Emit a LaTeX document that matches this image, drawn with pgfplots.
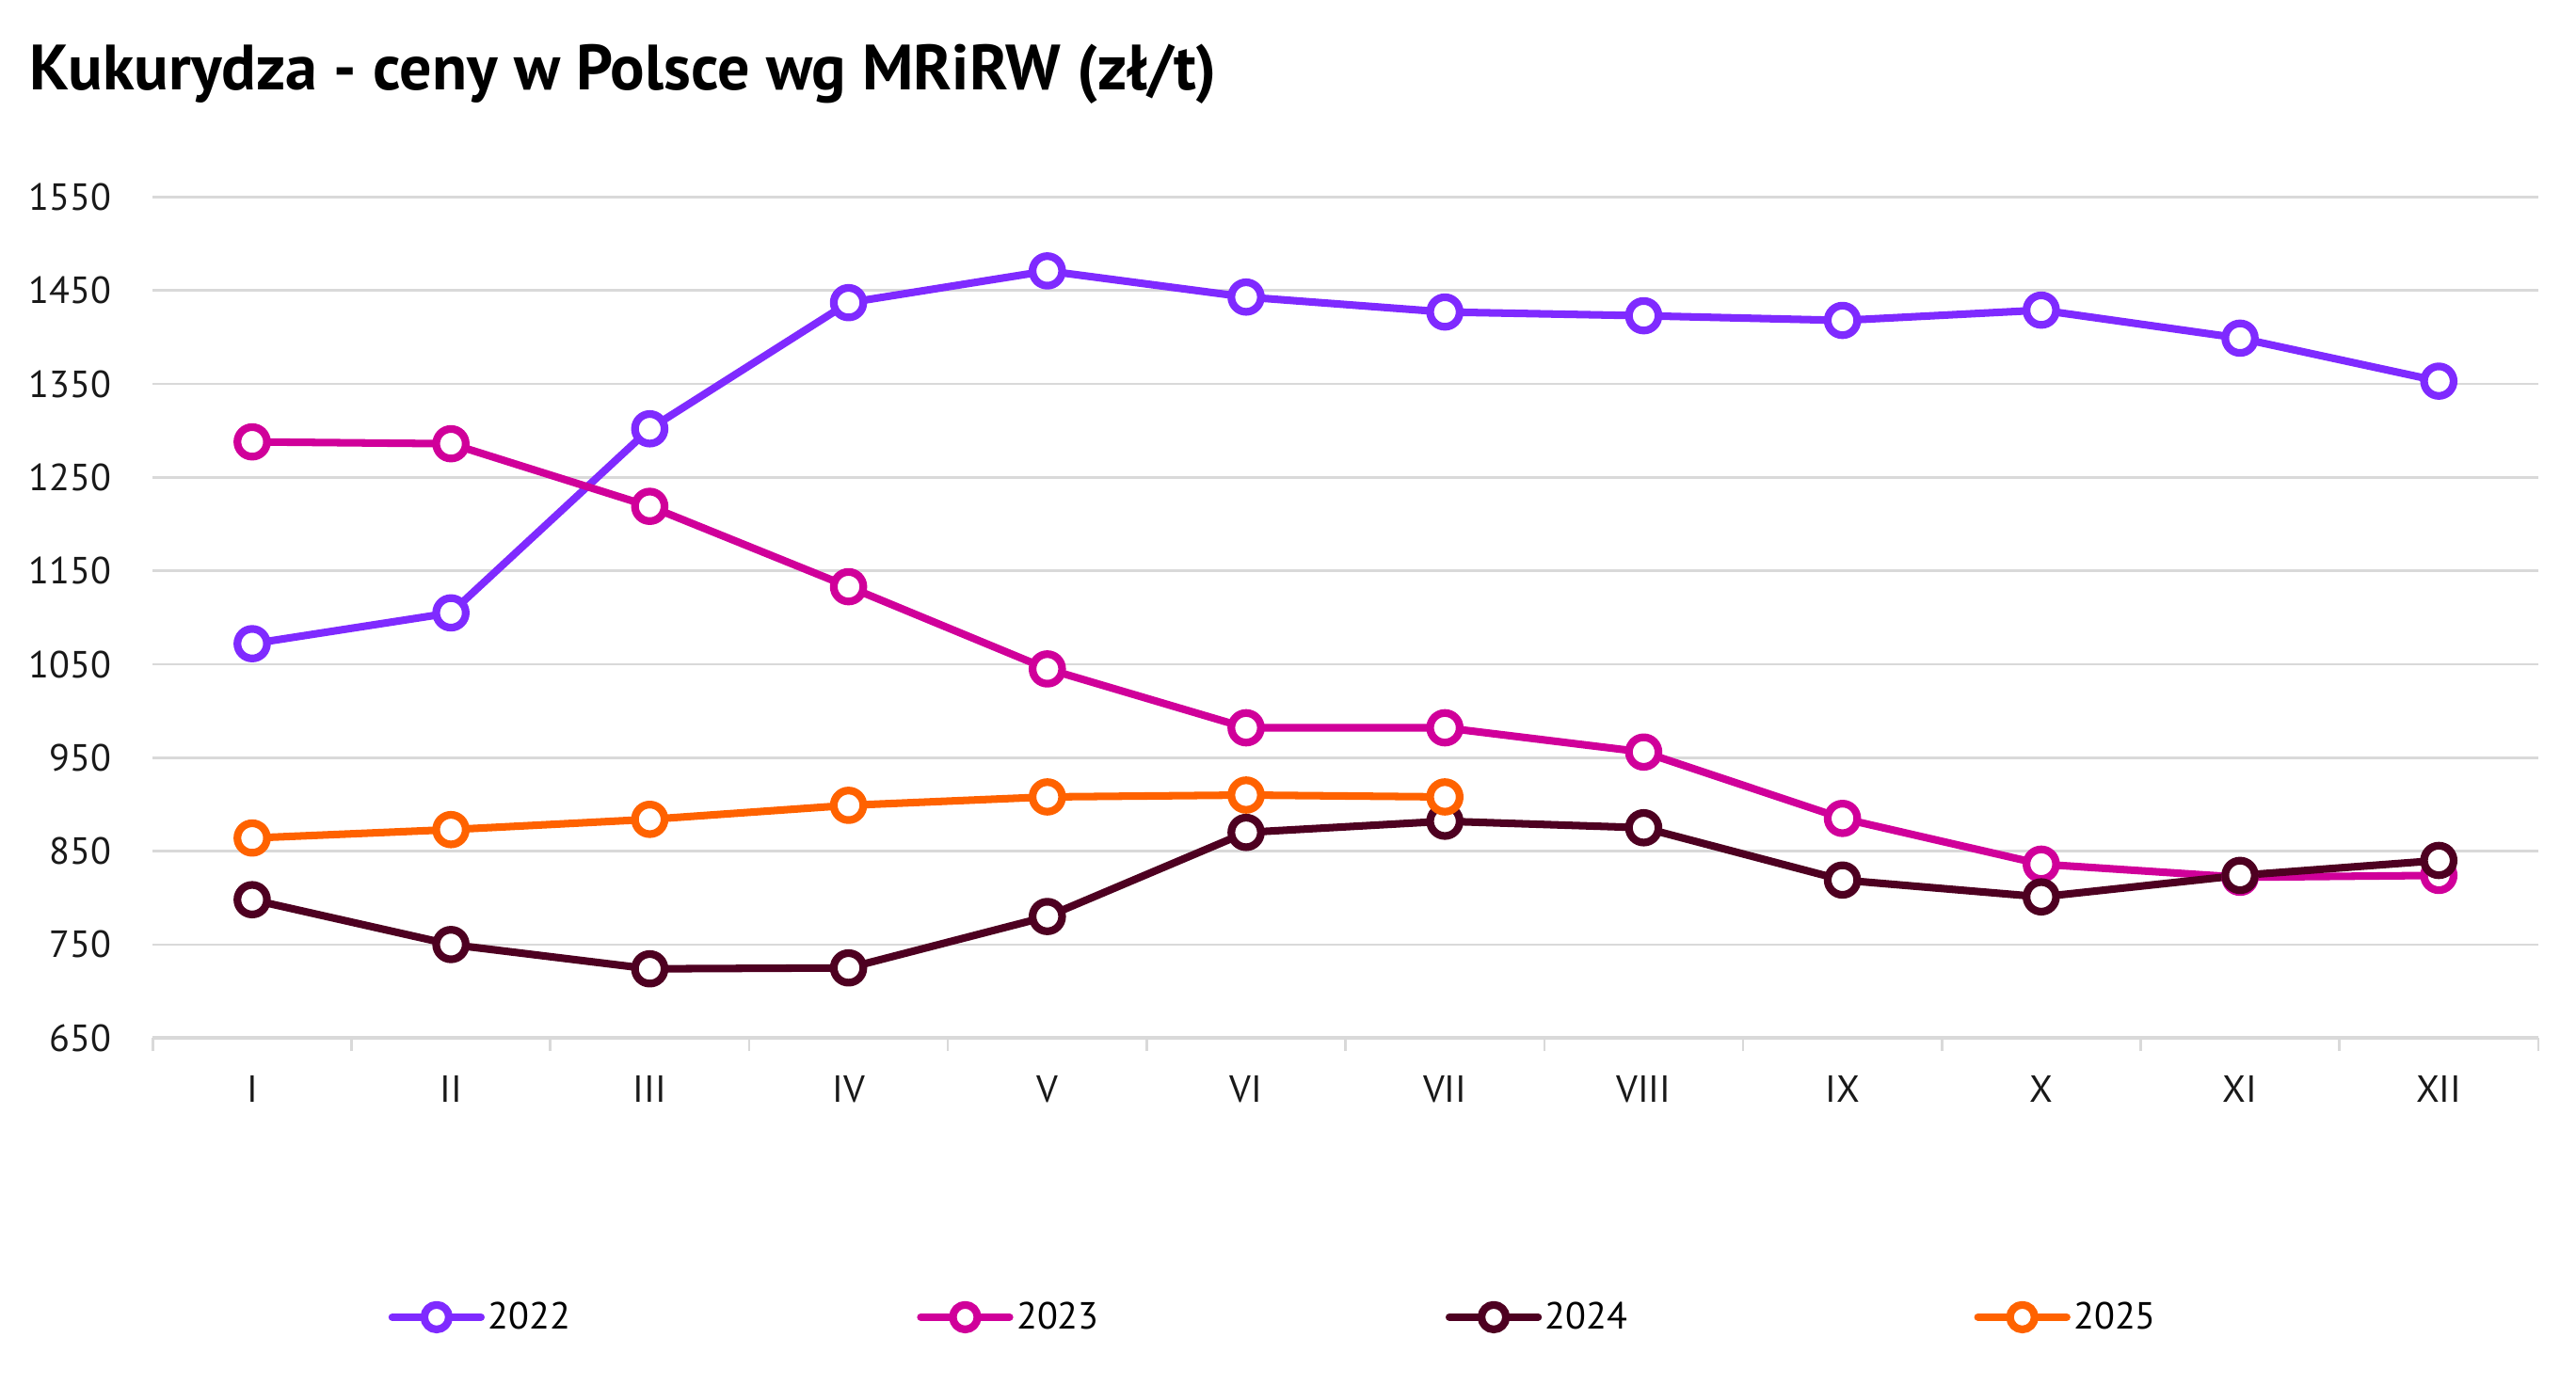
\documentclass[border=0pt]{standalone}
\usepackage{fontspec}
\setmainfont{PT Sans}
\usepackage{pgfplots}
\pgfplotsset{compat=1.18}
\definecolor{c22}{HTML}{7F2AFF}
\definecolor{c23}{HTML}{D0009A}
\definecolor{c24}{HTML}{4E0021}
\definecolor{c25}{HTML}{FF6200}
\definecolor{gridc}{HTML}{D9D9D9}
\pgfplotsset{ser/.style={color=#1, line width=4.6pt, line join=round, mark=*, mark size=9pt,
  mark options={fill=white, draw=#1, line width=4.7pt, solid}}}
\begin{document}
\begin{tikzpicture}
\useasboundingbox (0,0) rectangle (1568pt,843pt);
\node[anchor=base west, inner sep=0pt, font=\fontsize{39}{45}\selectfont\bfseries] at (18pt,788pt) {Kukurydza - ceny w Polsce wg MRiRW (zł/t)};
\begin{axis}[
 at={(93pt,211pt)}, anchor=south west,
 scale only axis, width=1452pt, height=512pt,
 xmin=-0.5, xmax=11.5, ymin=650, ymax=1550,
 xtick={0,...,11}, xticklabels={I,II,III,IV,V,VI,VII,VIII,IX,X,XI,XII},
 minor xtick={-0.5,0.5,...,11.5},
 ytick={650,750,...,1550},
 axis x line*=bottom, axis y line*=left,
 x axis line style={draw=gridc, line width=2pt, -},
 y axis line style={draw=none, -},
 major tick length=0pt, minor tick length=8pt, tick align=outside,
 xtick style={draw=none}, ytick style={draw=none},
 minor x tick style={draw=gridc, line width=1.5pt},
 ymajorgrids, grid style={draw=gridc, line width=1.5pt},
 tick label style={font=\fontsize{23}{27}\selectfont, inner sep=0pt, text=black!90},
 xticklabel style={anchor=north, yshift=-23pt},
 yticklabel style={anchor=east, xshift=-25pt},
 /pgf/number format/assume math mode=true,
 /pgf/number format/1000 sep={},
 legend image code/.code={\draw[#1, mark=none, line cap=round] (0pt,0pt) -- (54pt,0pt);
   \draw[#1, mark size=7.5pt] plot[only marks] coordinates {(27pt,0pt)};},
 legend style={at={(0.470,-0.332)}, anchor=center, legend columns=4, draw=none, fill=none,
   font=\fontsize{23}{27}\selectfont, nodes={inner sep=2pt},
   /tikz/every even column/.append style={column sep=209pt}},
]
\addplot[ser=c22] coordinates {
(0,1072) (1,1105) (2,1302) (3,1437) (4,1471) (5,1443) (6,1427) (7,1423) (8,1418) (9,1429) (10,1399) (11,1353)};
\addlegendentry{2022}
\addplot[ser=c23] coordinates {
(0,1288) (1,1286) (2,1219) (3,1133) (4,1045) (5,982) (6,982) (7,956) (8,885) (9,836) (10,822) (11,824)};
\addlegendentry{2023}
\addplot[ser=c24] coordinates {
(0,798) (1,750) (2,724) (3,725) (4,780) (5,870) (6,882) (7,875) (8,819) (9,801) (10,824) (11,840)};
\addlegendentry{2024}
\addplot[ser=c25] coordinates {
(0,864) (1,873) (2,884) (3,899) (4,908) (5,910) (6,908)};
\addlegendentry{2025}
\end{axis}
\end{tikzpicture}
\end{document}
